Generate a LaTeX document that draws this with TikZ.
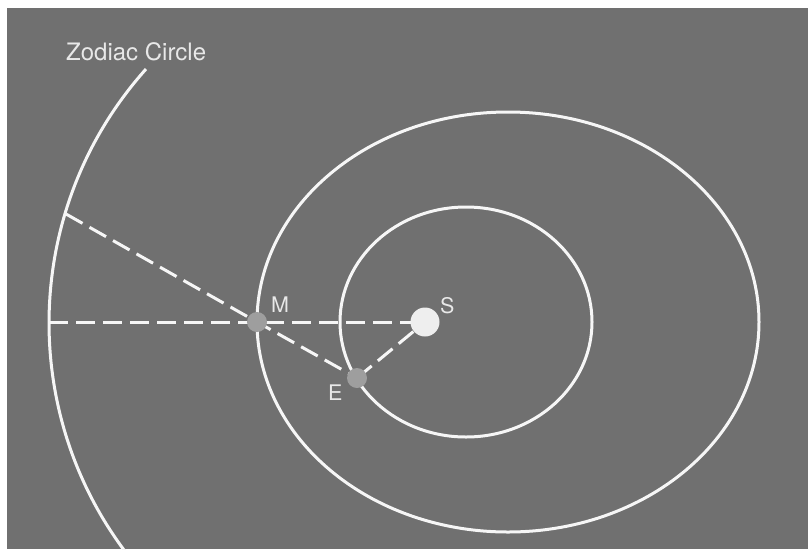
\documentclass[tikz,border=0pt]{standalone}
\usepackage{fontspec}
\setmainfont{TeX Gyre Heros}
\definecolor{bg}{RGB}{112,112,112}
\definecolor{ln}{RGB}{246,246,246}
\definecolor{txt}{RGB}{232,232,232}
\definecolor{planet}{RGB}{158,158,158}
\definecolor{sun}{RGB}{238,238,238}
\pgfdeclarelayer{paper}
\pgfdeclarelayer{lines}
\pgfsetlayers{paper,lines,main}
\begin{document}
\begin{tikzpicture}[x=1pt,y=-1pt,
  orbit/.style={draw=ln, line width=3pt},
  sightline/.style={draw=ln, line width=3pt, dash pattern=on 19pt off 8pt},
  body/.style={circle, inner sep=0pt, draw=none},
  lbl/.style={text=txt, inner sep=0pt, anchor=base west, font=\fontsize{21.5}{24}\selectfont}]
\useasboundingbox (0,0) rectangle (808,549);
\begin{pgfonlayer}{paper}
  \fill[white] (0,0) rectangle (808,549);
  \fill[bg] (7,8) rectangle (808,549);
\end{pgfonlayer}
% zodiac circle arc
\begin{scope}
  \clip (7,8) rectangle (808,549);
  \draw[orbit] (430,323) ++(138.2:381pt) arc[start angle=138.2, end angle=222, radius=381pt];
\end{scope}
% orbits
\draw[orbit] (508,322) ellipse[x radius=251pt, y radius=210pt];
\draw[orbit] (466,322) ellipse[x radius=126pt, y radius=115pt];
% bodies
\node[body, fill=planet, minimum size=20pt] (M) at (257,322) {};
\node[body, fill=planet, minimum size=20pt] (E) at (357,378) {};
\node[body, fill=sun, minimum size=29pt] (S) at (425,322) {};
\coordinate (Z1) at (66,214);
\coordinate (Z2) at (49,322);
% sight lines
\begin{pgfonlayer}{lines}
  \draw[sightline] (Z1) -- (M.center) -- (E.center);
  \draw[sightline] (Z2) -- (M.center) -- (S.center);
  \draw[sightline] (E.center) -- (S.center);
\end{pgfonlayer}
% labels
\node[lbl, font=\fontsize{24}{28}\selectfont] (zl) at (66,60) {Zodiac Circle};
\node[lbl] (ml) at (271,312) {M};
\node[lbl] (sl) at (440,313) {S};
\node[lbl] (el) at (328,400) {E};
\end{tikzpicture}
\end{document}
